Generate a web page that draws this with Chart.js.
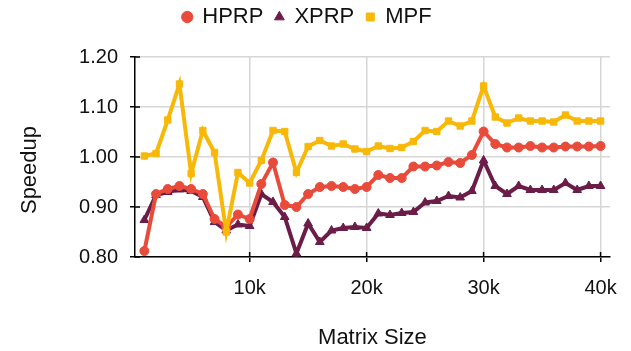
<!DOCTYPE html>
<html>
<head>
<meta charset="utf-8">
<script src="https://cdn.jsdelivr.net/npm/chart.js@4"></script>
<style>
  html, body { margin: 0; padding: 0; background: #fff; }
  #wrap { width: 631px; height: 351px; position: relative; }
</style>
</head>
<body>
<div id="wrap"><canvas id="grafico"></canvas></div>
<script>
// matrix sizes, in thousands
const tamanhos = [1, 2, 3, 4, 5, 6, 7, 8, 9, 10,
  11, 12, 13, 14, 15, 16, 17, 18, 19, 20,
  21, 22, 23, 24, 25, 26, 27, 28, 29, 30,
  31, 32, 33, 34, 35, 36, 37, 38, 39, 40];

const hprp = [0.812, 0.926, 0.936, 0.942, 0.936, 0.926, 0.876, 0.860, 0.885, 0.876,
  0.946, 0.989, 0.904, 0.900, 0.926, 0.940, 0.942, 0.940, 0.936, 0.940,
  0.964, 0.958, 0.958, 0.981, 0.981, 0.983, 0.990, 0.988, 1.004, 1.051,
  1.026, 1.019, 1.019, 1.022, 1.019, 1.019, 1.021, 1.021, 1.021, 1.022];

const xprp = [0.874, 0.924, 0.930, 0.935, 0.932, 0.920, 0.870, 0.853, 0.865, 0.862,
  0.926, 0.910, 0.880, 0.807, 0.867, 0.830, 0.853, 0.858, 0.860, 0.858,
  0.887, 0.884, 0.888, 0.890, 0.909, 0.912, 0.922, 0.919, 0.932, 0.993,
  0.942, 0.926, 0.942, 0.934, 0.934, 0.934, 0.948, 0.934, 0.942, 0.942];

const mpf = [1.002, 1.007, 1.074, 1.146, 0.967, 1.053, 1.009, 0.850, 0.969, 0.948,
  0.993, 1.053, 1.051, 0.969, 1.021, 1.033, 1.022, 1.026, 1.016, 1.011,
  1.022, 1.017, 1.019, 1.031, 1.053, 1.051, 1.072, 1.062, 1.072, 1.142,
  1.080, 1.068, 1.078, 1.072, 1.072, 1.070, 1.084, 1.072, 1.072, 1.072];

const ticksX = [10000, 20000, 30000, 40000];
const ticksY = [0.80, 0.90, 1.00, 1.10, 1.20];

const fonte = "'Liberation Sans', Arial, sans-serif";
const corTexto = '#111';
const corGrade = '#d6d6d6';

function pontos(valores) {
  return tamanhos.map((t, i) => ({ x: t * 1000, y: valores[i] }));
}

function serie(label, valores, cor, estilo, raio, ordem) {
  return {
    label: label,
    data: pontos(valores),
    borderColor: cor,
    backgroundColor: cor,
    pointBackgroundColor: cor,
    pointBorderColor: cor,
    pointBorderWidth: 1,
    pointStyle: estilo,
    pointRadius: raio,
    borderWidth: 4,
    tension: 0,
    order: ordem,
  };
}

// short tick marks crossing into the plot area
const marcasInternas = {
  id: 'marcasInternas',
  beforeDatasetsDraw(chart) {
    const { ctx, chartArea, scales } = chart;
    ctx.save();
    ctx.strokeStyle = '#000';
    ctx.lineWidth = 1.5;
    ctx.beginPath();
    scales.y.ticks.forEach((t) => {
      const y = scales.y.getPixelForValue(t.value);
      ctx.moveTo(chartArea.left, y);
      ctx.lineTo(chartArea.left + 5, y);
    });
    scales.x.ticks.forEach((t) => {
      const x = scales.x.getPixelForValue(t.value);
      ctx.moveTo(x, chartArea.bottom);
      ctx.lineTo(x, chartArea.bottom - 5);
    });
    ctx.stroke();
    ctx.restore();
  },
};

// y axis title, sitting a little below the middle of the axis
const tituloY = {
  id: 'tituloY',
  afterDraw(chart) {
    const { ctx } = chart;
    ctx.save();
    ctx.translate(30, 170);
    ctx.rotate(-Math.PI / 2);
    ctx.fillStyle = corTexto;
    ctx.font = '22px ' + fonte;
    ctx.textAlign = 'center';
    ctx.textBaseline = 'middle';
    ctx.fillText('Speedup', 0, 0);
    ctx.restore();
  },
};

// extra room below the legend
const espacoLegenda = {
  id: 'espacoLegenda',
  beforeInit(chart) {
    const fitOriginal = chart.legend.fit;
    chart.legend.fit = function () {
      fitOriginal.bind(chart.legend)();
      this.height = 63;
    };
  },
};

const ctx = document.getElementById('grafico').getContext('2d');
const grafico = new Chart(ctx, {
  type: 'line',
  data: {
    datasets: [
      serie('HPRP', hprp, '#e94b3b', 'circle', 4.5, 2),
      serie('XPRP', xprp, '#6b1d48', 'triangle', 5, 3),
      serie('MPF', mpf, '#f8b808', 'rect', 4.5, 1),
    ],
  },
  options: {
    responsive: true,
    maintainAspectRatio: false,
    animation: false,
    layout: { padding: { top: -6, right: 16, bottom: 0, left: 0 } },
    scales: {
      x: {
        type: 'linear',
        min: 200,
        max: 40800,
        afterBuildTicks: (eixo) => {
          eixo.ticks = ticksX.map((v) => ({ value: v }));
        },
        afterFit: (eixo) => {
          eixo.height = 94;
        },
        ticks: {
          color: corTexto,
          font: { family: fonte, size: 20 },
          padding: 14,
          maxRotation: 0,
          autoSkip: false,
          callback: (v) => v / 1000 + 'k',
        },
        grid: {
          color: corGrade,
          lineWidth: 1.5,
          tickColor: '#000',
          tickLength: 5,
        },
        border: { color: '#000', width: 1.5 },
        title: {
          display: true,
          text: 'Matrix Size',
          color: corTexto,
          font: { family: fonte, size: 22 },
          padding: { top: 0, bottom: 0 },
        },
      },
      y: {
        min: 0.8,
        max: 1.2,
        afterBuildTicks: (eixo) => {
          eixo.ticks = ticksY.map((v) => ({ value: v }));
        },
        afterFit: (eixo) => {
          eixo.width = 135;
        },
        ticks: {
          color: corTexto,
          font: { family: fonte, size: 20 },
          padding: 12,
          callback: (v) => Number(v).toFixed(2),
        },
        grid: {
          color: corGrade,
          lineWidth: 1.5,
          tickColor: '#000',
          tickLength: 5,
        },
        border: { color: '#000', width: 1.5 },
      },
    },
    plugins: {
      legend: {
        position: 'top',
        labels: {
          usePointStyle: true,
          boxWidth: 8,
          boxHeight: 8,
          padding: 12,
          color: corTexto,
          font: { family: fonte, size: 22 },
          sort: (a, b) => a.datasetIndex - b.datasetIndex,
        },
      },
      tooltip: { enabled: false },
    },
  },
  plugins: [marcasInternas, tituloY, espacoLegenda],
});
</script>
</body>
</html>
